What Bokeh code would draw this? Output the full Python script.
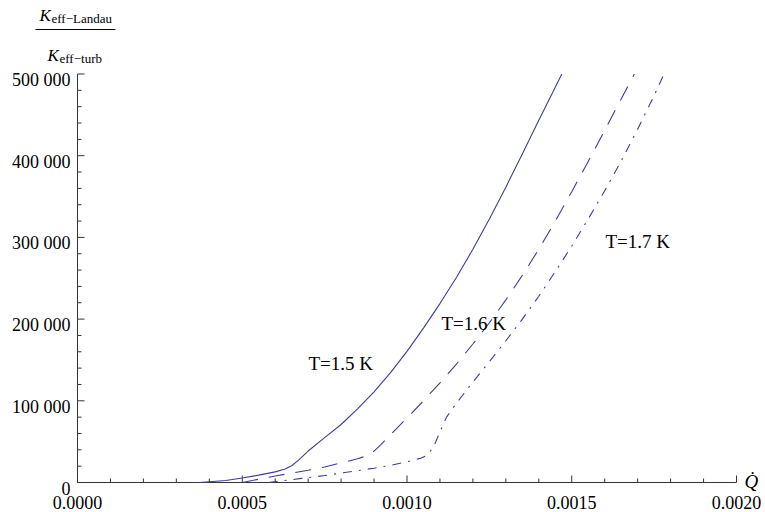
from bokeh.plotting import figure
from bokeh.models import Label, Range1d
from bokeh.core.properties import value
from bokeh.embed import file_html
from bokeh.resources import INLINE
import numpy as np

# ---------------- data ----------------
q_15 = [0.00037, 0.00045, 0.0005, 0.00055, 0.0006, 0.00063, 0.00065, 0.00067, 0.0007,
        0.00075, 0.0008, 0.00085, 0.0009, 0.00095, 0.001, 0.00105, 0.0011, 0.00115,
        0.0012, 0.00125, 0.0013, 0.00135, 0.0014, 0.00147]
k_15 = [0, 2500, 5500, 9000, 13000, 16500, 20500, 27000, 38500,
        55000, 71000, 90000, 111000, 134500, 160500, 189000, 219000, 251000,
        285500, 322500, 361500, 402000, 443500, 500000]

q_16 = [0.0005, 0.00055, 0.0006, 0.00065, 0.0007, 0.00075, 0.0008, 0.00085, 0.00088,
        0.0009, 0.00092, 0.00095, 0.001, 0.00105, 0.0011, 0.00115, 0.0012, 0.00125,
        0.0013, 0.00135, 0.0014, 0.00145, 0.0015, 0.00155, 0.0016, 0.00165, 0.00169]
k_16 = [0, 4000, 8000, 11500, 15000, 19000, 24000, 29000, 33000,
        38500, 46000, 58500, 79000, 100000, 122000, 145000, 169500, 195500,
        223500, 253500, 285500, 320000, 356000, 393000, 431000, 469500, 500000]

q_17 = [0.00058, 0.00062, 0.00068, 0.00075, 0.0008, 0.00085, 0.0009, 0.00095, 0.001,
        0.00104, 0.00106, 0.00108, 0.0011, 0.00112, 0.00115, 0.0012, 0.00125, 0.0013,
        0.00135, 0.0014, 0.00145, 0.0015, 0.00155, 0.0016, 0.00165, 0.0017, 0.00175, 0.00178]
k_17 = [0, 2000, 5000, 8500, 11500, 14500, 17500, 21000, 25500,
        29500, 33000, 43000, 62000, 80000, 97000, 123000, 148000, 173500,
        200000, 228000, 258000, 289500, 322500, 357000, 393500, 432500, 473500, 500000]

curve_labels = ["T=1.5 K", "T=1.6 K", "T=1.7 K"]

x_ticks = [0.0, 0.0005, 0.001, 0.0015, 0.002]
x_tick_labels = ["0.0000", "0.0005", "0.0010", "0.0015", "0.0020"]
y_ticks = [0, 100000, 200000, 300000, 400000, 500000]
y_tick_labels = ["0", "100 000", "200 000", "300 000", "400 000", "500 000"]
x_minor_step = 0.0001
y_minor_step = 20000

# ---------------- layout ----------------
W, H = 765, 512
ORG = 0          # the figure's top-left corner on the page
X0, X1, Y0, Y1 = 0.0, 0.002, 0.0, 500000.0
# position of the axes box on the page
PL, PR, PT, PB = 77.0, 736.0, 73.5, 482.0
DX = (X1 - X0) / (PR - PL)   # data per pixel
DY = (Y1 - Y0) / (PB - PT)

def px2x(px):
    return X0 + (px - PL) * DX

def py2y(py):
    return Y0 + (PB - py) * DY

LINE = "#3d3d99"
AX = "#333333"
SERIF = "Liberation Serif"

p = figure(width=W, height=H, output_backend="svg", toolbar_location=None,
           x_range=Range1d(px2x(ORG), px2x(ORG + W)),
           y_range=Range1d(py2y(ORG + H), py2y(ORG)),
           x_axis_location=None, y_axis_location=None,
           min_border=0, min_border_left=0, min_border_right=0,
           min_border_top=0, min_border_bottom=0)
p.outline_line_color = None
p.xgrid.visible = False
p.ygrid.visible = False
p.background_fill_color = "white"
p.border_fill_color = "white"

# ---------------- axes (drawn through the data scales) ----------------
p.segment(x0=[X0, X0], y0=[Y0, Y0], x1=[X1, X0], y1=[Y0, Y1],
          line_color=AX, line_width=1)

x_minor = [v for v in np.arange(X0, X1 + x_minor_step / 2, x_minor_step)
           if min(abs(v - t) for t in x_ticks) > x_minor_step / 10]
y_minor = [v for v in np.arange(Y0, Y1 + y_minor_step / 2, y_minor_step)
           if min(abs(v - t) for t in y_ticks) > y_minor_step / 10]

MAJ, MIN = 7, 4
p.segment(x0=x_ticks, y0=[Y0] * len(x_ticks), x1=x_ticks, y1=[Y0 + MAJ * DY] * len(x_ticks),
          line_color=AX, line_width=1)
p.segment(x0=x_minor, y0=[Y0] * len(x_minor), x1=x_minor, y1=[Y0 + MIN * DY] * len(x_minor),
          line_color=AX, line_width=1)
p.segment(x0=[X0] * len(y_ticks), y0=y_ticks, x1=[X0 + MAJ * DX] * len(y_ticks), y1=y_ticks,
          line_color=AX, line_width=1)
p.segment(x0=[X0] * len(y_minor), y0=y_minor, x1=[X0 + MIN * DX] * len(y_minor), y1=y_minor,
          line_color=AX, line_width=1)

p.text(x=x_ticks, y=[Y0] * len(x_ticks), text=x_tick_labels, y_offset=20,
       text_align="center", text_baseline="alphabetic", text_font=value(SERIF),
       text_font_size="18px", text_color="black")
p.text(x=[X0] * len(y_ticks), y=y_ticks, text=y_tick_labels, x_offset=-7, y_offset=6,
       text_align="right", text_baseline="alphabetic", text_font=value(SERIF),
       text_font_size="18px", text_color="black")

# ---------------- curves ----------------
p.line(q_15, k_15, line_color=LINE, line_width=1.1)
p.line(q_16, k_16, line_color=LINE, line_width=1.1, line_dash="16 11")
p.line(q_17, k_17, line_color=LINE, line_width=1.1, line_dash="9 7 2 7")

# ---------------- texts ----------------
def add_text(txt, lx, ly, size, style="normal"):
    p.add_layout(Label(x=px2x(lx), y=py2y(ly), text=txt, text_font=SERIF,
                       text_font_style=style, text_font_size=size, text_color="black",
                       text_align="left", text_baseline="alphabetic"))

label_pos = [(308, 363), (441, 323), (605, 241)]
for txt, (lx, ly) in zip(curve_labels, label_pos):
    add_text(txt, lx, ly, "19px")

# x axis label (Q with dot above)
add_text("Q\u0307", 744, 481, "19px", "italic")

# y axis label: fraction K_eff-Landau / K_eff-turb
add_text("K", 39, 15, "17px", "italic")
add_text("eff\u2212Landau", 51, 18, "13px")
add_text("K", 47, 55, "17px", "italic")
add_text("eff\u2212turb", 59, 58, "13px")
p.segment(x0=[px2x(35)], y0=[py2y(29)], x1=[px2x(115)], y1=[py2y(29)],
          line_color="black", line_width=1)

open("out.html", "w").write(file_html(p, INLINE))
